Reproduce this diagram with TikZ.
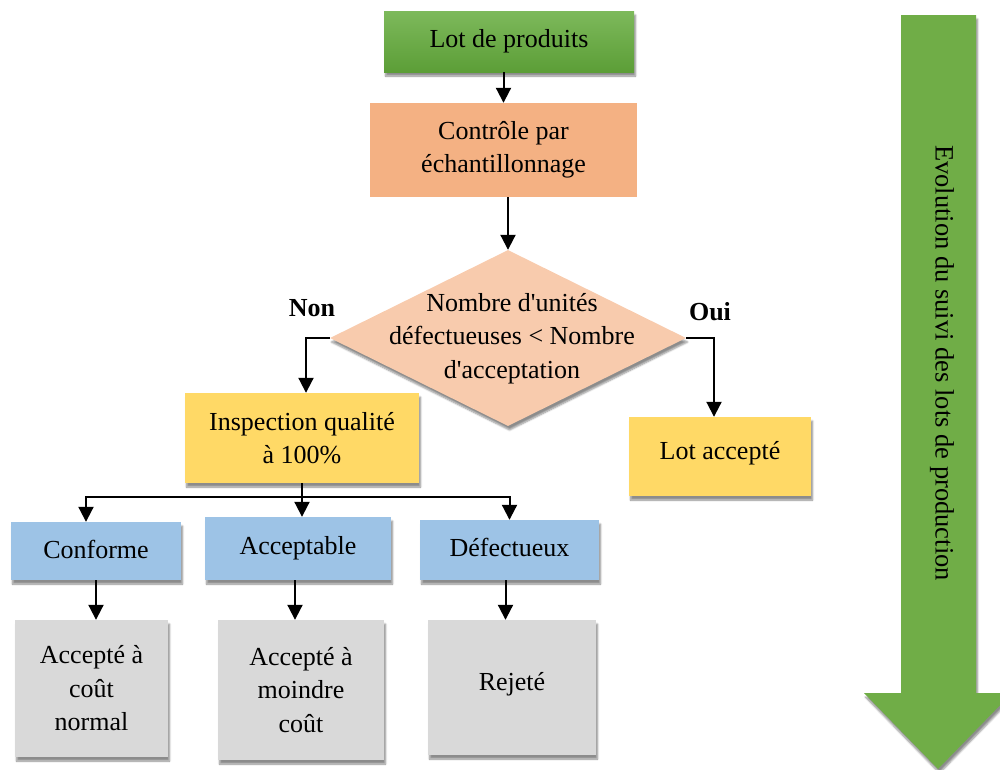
\documentclass[tikz,border=0pt]{standalone}
\usepackage{fontspec}
\setmainfont{Liberation Serif}
\usetikzlibrary{shapes.geometric,arrows.meta,shadows.blur}

\definecolor{lotTop}{HTML}{7DB95B}
\definecolor{lotBot}{HTML}{5C9E37}
\definecolor{ctrlCol}{HTML}{F4B183}
\definecolor{decCol}{HTML}{F8CBAD}
\definecolor{yelCol}{HTML}{FFD966}
\definecolor{bluCol}{HTML}{9DC3E6}
\definecolor{grayCol}{HTML}{D9D9D9}
\definecolor{bigArrow}{HTML}{70AD47}

\tikzset{
  x=1pt, y=-1pt,
  every node/.style={font=\fontsize{26}{33.5}\selectfont, align=center, inner sep=0pt},
  softshadow/.style={blur shadow={shadow xshift=1.5pt, shadow yshift=-4pt, shadow blur steps=6, shadow opacity=45}},
  box/.style={rectangle, draw=none, softshadow},
  arr/.style={line width=2pt, -{Triangle[width=15pt,length=15pt]}},
  answer/.style={font=\fontsize{26}{30}\selectfont\bfseries},
}

\begin{document}
\begin{tikzpicture}
\useasboundingbox (0,0) rectangle (1000,769);
\clip (0,0) rectangle (1000,769);

% Main flow
\node[box, top color=lotTop, bottom color=lotBot, minimum width=250pt, minimum height=61pt]
  (lot) at (509,41.5) {Lot de produits};
\node[rectangle, fill=ctrlCol, minimum width=267pt, minimum height=94pt]
  (ctrl) at (503.5,150) {Contrôle par\\échantillonnage};
\node[diamond, fill=decCol, softshadow, minimum width=356pt, minimum height=176pt]
  (dec) at (508,338) {};
\node (dectext) at (512,338.5)
  {Nombre d\textquotesingle unités\\défectueuses < Nombre\\d\textquotesingle acceptation};

\node[answer] (non) at (312,308) {Non};
\node[answer] (oui) at (710,312) {Oui};

\node[box, fill=yelCol, minimum width=234pt, minimum height=90pt]
  (insp) at (302,438) {Inspection qualité\\à 100\%};
\node[box, fill=yelCol, minimum width=182pt, minimum height=79pt]
  (acc) at (720,456.5) {\raisebox{13pt}{Lot accepté}};

% Inspection outcomes
\node[box, fill=bluCol, minimum width=170pt, minimum height=58pt]
  (conf) at (96,551) {\raisebox{4pt}{Conforme}};
\node[box, fill=bluCol, minimum width=186pt, minimum height=63pt]
  (accb) at (298,548.5) {\raisebox{6pt}{Acceptable}};
\node[box, fill=bluCol, minimum width=179pt, minimum height=60pt]
  (def) at (509.5,550) {\raisebox{5pt}{Défectueux}};

\node[box, fill=grayCol, minimum width=153pt, minimum height=137pt]
  (g1) at (91.5,688.5) {Accepté à\\coût\\normal};
\node[box, fill=grayCol, minimum width=166pt, minimum height=140pt]
  (g2) at (301,690) {Accepté à\\moindre\\coût};
\node[box, fill=grayCol, minimum width=168pt, minimum height=135pt]
  (g3) at (512,687.5) {\raisebox{12pt}{Rejeté}};

% Connectors
\draw[arr] (lot.south -| ctrl.north) -- (ctrl.north);
\draw[arr] (ctrl.south -| dec.north) -- (dec.north);
\draw[arr] (dec.west) -| ([xshift=4pt]insp.north);
\draw[arr] (dec.east) -| ([xshift=-6pt]acc.north);

\coordinate (bus) at (302,497);
\draw[arr] (insp.south) -- (insp.south |- accb.north);
\draw[arr] (bus) -| ([xshift=-10pt]conf.north);
\draw[arr] (bus) -| (def.north);

\draw[arr] (conf.south) -- (conf.south |- g1.north);
\draw[arr] ([xshift=-3pt]accb.south) -- ([xshift=-3pt]accb.south |- g2.north);
\draw[arr] ([xshift=-4pt]def.south) -- ([xshift=-4pt]def.south |- g3.north);

% Timeline arrow
\path[fill=bigArrow, softshadow]
  (901,15) -- (976,15) -- (976,693) -- (1012,693) -- (938,769)
  -- (864,693) -- (901,693) -- cycle;
\node[rotate=-90, font=\fontsize{26.5}{30}\selectfont] (evol) at (942,363)
  {Evolution du suivi des lots de production};
\end{tikzpicture}
\end{document}
